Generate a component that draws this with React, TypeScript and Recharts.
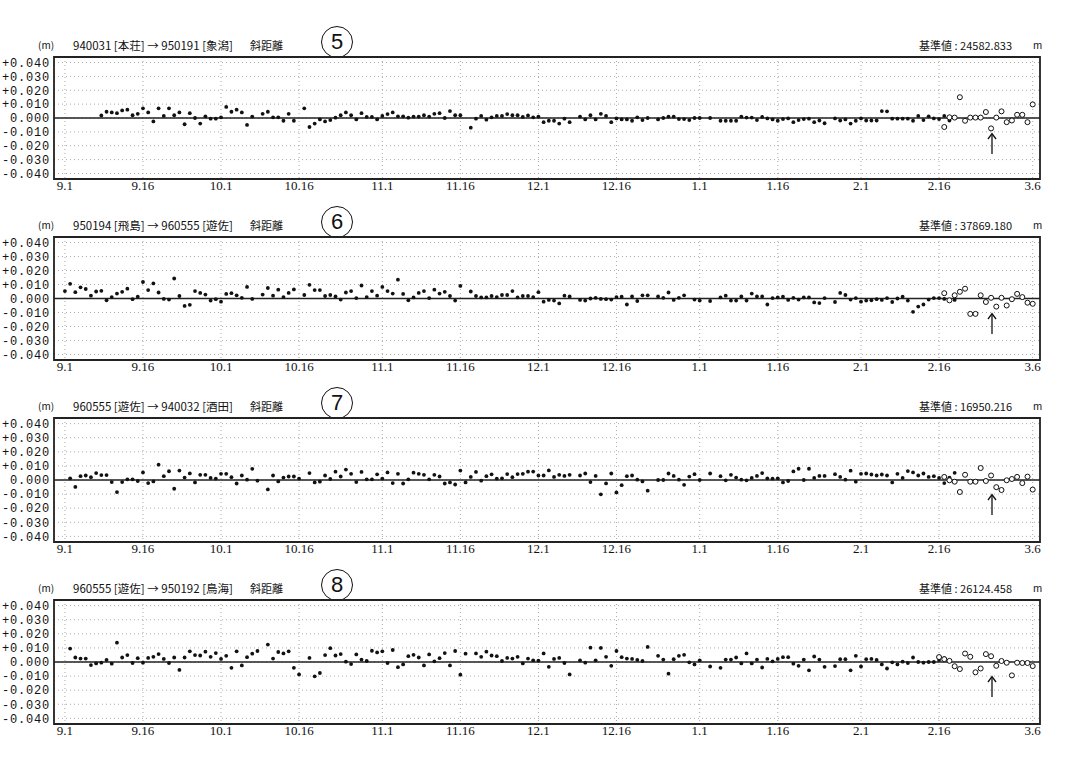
import React from "react";
import {
  CartesianGrid, ReferenceArea, ReferenceLine, Scatter, ScatterChart, XAxis, YAxis,
} from "recharts";

// days counted from 9.1
const xTickDays = [0, 15, 30, 45, 61, 76, 91, 106, 122, 137, 153, 168, 186];
const xTickLabels = ["9.1", "9.16", "10.1", "10.16", "11.1", "11.16", "12.1", "12.16", "1.1", "1.16", "2.1", "2.16", "3.6"];
const yTicks = [0.04, 0.03, 0.02, 0.01, 0, -0.01, -0.02, -0.03, -0.04];
const yTickLabels = ["+0.040", "+0.030", "+0.020", "+0.010", "0.000", "-0.010", "-0.020", "-0.030", "-0.040"];

// ⑤ 940031 -> 950191
const p5Title = "940031 [本荘] → 950191 [象潟]";
const p5Base = "24582.833";
const p5FillStart = 7;
const p5Fill = [
  0.0018, 0.0045, 0.004, 0.0035, 0.0055, 0.006, 0.002, 0.003, 0.007, 0.004,
  -0.0025, 0.007, 0.0015, 0.007, 0.002, 0.004, -0.0045, 0.0035, 0, -0.004,
  0.0012, -0.0005, -0.0005, 0.0005, 0.008, 0.0045, 0.006, 0.004, -0.005, 0.001,
  null, 0.003, 0.0045, 0.0005, 0.0005, -0.002, 0.003, -0.002, null, 0.007,
  -0.0065, -0.004, -0.001, -0.0025, -0.0015, 0.0002, 0.002, 0.004, 0.002, -0.001,
  0.0035, 0.0008, 0.0008, -0.001, 0.0015, 0.0028, 0.004, 0.0012, 0.0012, 0.0002,
  0.001, 0.001, 0.002, 0.001, 0.003, 0.0035, 0, 0.005, 0.002, 0.002,
  null, -0.007, -0.0005, 0.0015, -0.0012, 0.0005, 0.0015, 0.0015, 0.0028, 0.002,
  0.002, 0.0008, 0.0018, 0.0005,
  0.001, -0.003, -0.002, -0.002, -0.004, -0.0005, -0.003, null, 0.001, -0.001,
  0.002, -0.001, 0.003, 0.0015, -0.003, -0.0003, -0.001, -0.001, -0.002, 0.0005,
  -0.0015, 0, null, -0.001, 0, 0.001, 0.001, -0.0008, -0.0008, -0.0015,
  0, 0, null, 0, null, -0.002, -0.002, -0.002, -0.002, 0.001,
  0.0003, 0.0003, -0.0015, 0.0008, -0.0003, -0.001, -0.002, -0.0008, -0.0003, -0.003,
  -0.0015, -0.0008, -0.0005, -0.003, -0.0018, -0.0038, null, -0.0003, -0.0018, -0.001,
  -0.004, -0.002, -0.0003, -0.0018, -0.0018, -0.0018, 0.005, 0.0048, -0.0005, -0.0005,
  -0.0005, -0.0005, -0.002, 0.0015, -0.0015, 0.0012, -0.0003, -0.0008, 0.0015, -0.0018,
  0.0005,
];
const p5OpenStart = 169;
const p5Open = [
  -0.0065, 0.0005, 0.0003, 0.015, -0.002, 0.0003, 0.0003, 0.0003, 0.0043, -0.0075,
  0.0003, 0.0048, -0.003, -0.0018, 0.0023, 0.0023, -0.003, 0.0098,
];

// ⑥ 950194 -> 960555
const p6Title = "950194 [飛島] → 960555 [遊佐]";
const p6Base = "37869.180";
const p6FillStart = 0;
const p6Fill = [
  0.0053, 0.0105, 0.0045, 0.008, 0.0068, 0.002, 0.005, 0.0055, -0.0013, 0.001,
  0.0035, 0.0048, 0.007, -0.0005, 0.0013, 0.0118, 0.006, 0.0108, 0.0043, -0.0003,
  -0.0008, 0.0143, 0.0018, -0.0053, -0.0045, 0.0053, 0.004, 0.0028, -0.0015, -0.0005,
  -0.0023, 0.0033, 0.0038, 0.0023, 0.0005, 0.0083, -0.0003, null, 0.0028, 0.0075,
  0.002, 0.0063, 0.001, 0.004, 0.0065, null, 0.0025, 0.0098, 0.006, 0.006,
  0.0018, 0.0025, 0.0015, -0.0008, 0.0043, 0.0053, 0.0003, 0.0093, 0.001, 0.0053,
  0.002, 0.0083, 0.0053, 0.0035, 0.0135, 0.0033, -0.0013, 0.0008, 0.004, 0.0053,
  0.0003, 0.0063, 0.0035, 0.0048, 0.0018, -0.0015, 0.009, null, 0.005, 0.0018,
  0.0008, 0.0008, 0.0018, 0.001, 0.0025, 0.0025, 0.0053, 0.0008, 0.0018, 0.0018,
  0.001, 0.0045,
  -0.0023, -0.001, -0.0015, -0.0035, 0.002, 0.0015, null, -0.001, -0.0015, 0,
  0.0005, -0.0003, -0.0005, -0.0008, 0.001, 0.0013, -0.0043, 0.0015, -0.0018, 0.0023,
  0.0023, null, 0.0015, 0.0005, 0.0043, -0.001, 0.0005, 0.0023, null, -0.0008,
  -0.0015, null, -0.0018, null, 0.0008, 0.002, -0.0015, -0.0015, 0.0015, -0.0015,
  0.0035, 0.0015, 0.0015, -0.0043, 0.0003, 0.0008, 0.0013, -0.001, 0.0005, -0.0008,
  0.0008, 0.0008, -0.0028, -0.0033, 0.0003, null, -0.0025, 0.004, 0.0025, -0.0008,
  0.0003, -0.0023, -0.0015, -0.0013, -0.0005, -0.001, 0.0003, -0.0025, 0, 0.0013,
  -0.0015, -0.0095, -0.0058, -0.0043, -0.0008, 0.0003, 0.0003, -0.0003, null, -0.001,
];
const p6OpenStart = 169;
const p6Open = [
  0.0038, -0.0013, 0.0023, 0.0048, 0.007, -0.011, -0.011, 0.0023, -0.0025, 0.0005,
  -0.0058, 0.0005, -0.005, -0.0005, 0.0033, 0.001, -0.003, -0.0038,
];

// ⑦ 960555 -> 940032
const p7Title = "960555 [遊佐] → 940032 [酒田]";
const p7Base = "16950.216";
const p7FillStart = 1;
const p7Fill = [
  0.0012, -0.0049, 0.0027, 0.0032, 0.002, 0.0049, 0.0035, 0.0035, -0.0015, -0.0086,
  -0.0015, 0.0005, 0.0005, -0.0007, 0.0054, -0.0022, -0.001, 0.0109, 0.0027, 0.0062,
  -0.0062, 0.0067, 0.0017, 0.0047, -0.0017, 0.0037, 0.0037, 0.0015, 0.001, 0.0044,
  0.0044, 0.002, -0.0025, 0.0032, 0.0002, 0.0079, -0.0005, null, -0.0067, 0.0032,
  -0.001, 0.0017, 0.0025, 0.0025, 0.001, null, 0.0049, -0.0017, -0.0012, 0.0032,
  0.0007, 0.0059, 0.0025, 0.0074, 0.0044, -0.0015, 0.0057, 0.0005, 0.0005, 0.004,
  0.001, 0.0054, -0.0022, 0.0044, -0.0025, 0.0005, 0.0052, 0.0044, 0.0037, 0.0005,
  0.0037, 0.0025, -0.0025, -0.0017, -0.0032, 0.0067, -0.0017, 0.0022, 0.0057, -0.0005,
  0.0027, 0.004, 0.001, 0.0012, 0.0042, 0.002, 0.0042, 0.0044, 0.0059, 0.006,
  0.0032, 0.0032, 0.0068, 0.0022, 0.0037, 0.0029, 0.0037, null, 0.0032, 0.0046,
  -0.0015, 0.0029, -0.0102, -0.0024, 0.0046, -0.0088, -0.0037, 0.0027, 0.0032, 0.0002,
  -0.001, -0.0076, null, 0, 0, 0.0046, 0.0029, 0.0002, -0.0034, 0.0024,
  0.0041, 0, null, 0.0046, null, 0.0027, -0.0002, 0.0037, 0.0017, 0.0002,
  -0.0002, 0.0015, 0.0029, 0.0049, 0.0012, 0.001, 0.0012, -0.0017, -0.0007, 0.0061,
  0.008, 0, 0.008, 0.0015, 0.0029, 0.0029, null, 0.0041, 0.0022, 0.0002,
  0.0066, -0.0012, 0.0044, 0.0046, 0.0039, 0.0032, 0.0039, 0.0032, -0.0017, 0.0044,
  0.0015, 0.0063, 0.0054, 0.0032, 0.0046, 0.0022, 0.0027, 0.0015, -0.0022, 0.0017,
  0.0051,
];
const p7OpenStart = 169;
const p7Open = [
  0.0022, -0.0002, -0.0012, -0.0085, 0.0037, -0.0012, -0.0012, 0.0085, -0.0007, 0.0032,
  -0.0051, -0.0071, -0.0002, 0.0007, 0.0022, -0.0022, 0.0024, -0.0068,
];

// ⑧ 960555 -> 950192
const p8Title = "960555 [遊佐] → 950192 [鳥海]";
const p8Base = "26124.458";
const p8FillStart = 1;
const p8Fill = [
  0.0095, 0.0032, 0.0024, 0.0024, -0.0022, -0.001, -0.0005, 0.0015, -0.0012, 0.0137,
  0.0032, 0.0049, -0.0007, 0.0027, -0.0005, 0.0029, 0.0037, 0.0056, 0.0022, -0.0007,
  0.0032, -0.0056, 0.0032, 0.0076, 0.0049, 0.0046, 0.0073, 0.0037, 0.0063, 0.0022,
  0.0044, -0.0041, 0.0076, -0.0024, 0.0034, 0.0059, 0.0078, null, 0.0124, 0.0024,
  0.0071, 0.0061, 0.0076, -0.0041, -0.0088, null, 0.0029, -0.0102, -0.0078, 0.0049,
  0.0098, 0.0046, 0.0056, 0.0002, -0.0015, 0.0054, 0.0017, 0.0007, 0.008, 0.0068,
  0.0076, -0.0007, 0.0085, -0.0037, -0.0017, 0.0041, 0.0051, 0.0032, -0.0024, 0.0054,
  0.0005, 0.0027, 0.0063, -0.0024, 0.0078, -0.009, 0.0059, null, 0.0061, 0.0037,
  0.0073, 0.0046, 0.0041, 0.0007, 0.0029, 0.0024, 0.0037, -0.001, 0.0024, 0.0012,
  0.001, 0.0061, -0.0034, 0.0022, 0.0029, -0.0007, -0.0088, null, 0.0012, -0.0005,
  0.0102, 0.0012, 0.01, 0.0037, -0.0027, 0.0078, 0.0034, 0.0024, 0.0022, 0.0015,
  0.0007, 0.0107, null, 0.0044, 0.0017, -0.0083, 0.002, 0.0044, 0.0051, -0.0002,
  -0.0017, 0.0012, null, -0.0032, null, -0.0041, 0.0017, 0.0017, 0.0032, -0.001,
  0.0061, -0.001, 0.0017, -0.0039, 0.0022, 0.0005, 0.0022, 0.0034, 0.0034, -0.0012,
  -0.0027, 0.0017, -0.0059, 0.0039, 0.0017, -0.0034, null, -0.0029, 0.002, 0.002,
  -0.0059, 0.0044, -0.0032, 0.002, 0.0022, 0.0015, -0.0017, -0.0046, -0.0002, -0.0017,
  0.0002, -0.0007, 0.0032, 0, -0.0005, 0, 0, 0.0015, 0.0027,
];
const p8OpenStart = 168;
const p8Open = [
  0.0035, 0.002, 0.0008, -0.003, -0.005, 0.006, 0.0037, -0.0073, -0.0046, 0.0056,
  0.0041, -0.0027, 0.0007, -0.0005, -0.0095, -0.0005, -0.0007, -0.0007, -0.0029,
];

const toPoints = (start: number, vals: (number | null)[]) =>
  vals.flatMap((v, i) => (v == null ? [] : [{ d: start + i, v }]));

const Dot = (p: any) => <circle cx={p.cx} cy={p.cy} r={1.9} fill="#111" />;
const Ring = (p: any) => <circle cx={p.cx} cy={p.cy} r={2.5} fill="#fff" stroke="#111" strokeWidth={1} />;

const PAD = 4;

function Panel({ num, title, base, fillStart, fill, openStart, open, top, plotH }: {
  num: string; title: string; base: string; fillStart: number; fill: (number | null)[];
  openStart: number; open: (number | null)[]; top: number; plotH: number;
}) {
  const hdr = { position: "absolute" as const, top: top - 20, fontFamily: "'Noto Sans CJK JP'", fontSize: 11, color: "#111", whiteSpace: "pre" as const };
  return (
    <>
      <div style={{ ...hdr, left: 38, fontSize: 10 }}>(m)</div>
      <div style={{ ...hdr, left: 73, fontSize: 11.5 }}>{title}</div>
      <div style={{ ...hdr, left: 250 }}>斜距離</div>
      <div style={{ ...hdr, left: 880, width: 132, textAlign: "right" }}>{"基準値 : " + base}</div>
      <div style={{ ...hdr, left: 1033, fontSize: 10 }}>m</div>
      <div style={{
        position: "absolute", left: 321, top: top - 31, width: 30, height: 30, borderRadius: "50%",
        border: "1.4px solid #111", fontFamily: "'Liberation Sans'", fontSize: 22, lineHeight: "30px",
        textAlign: "center", color: "#111",
      }}>{num}</div>
      <svg style={{ position: "absolute", left: 985, top: top + 75 }} width={14} height={24}>
        <line x1={7} y1={2} x2={7} y2={22} stroke="#111" strokeWidth={1.3} />
        <polyline points="3,7 7,1.5 11,7" fill="none" stroke="#111" strokeWidth={1.3} />
      </svg>
      <div style={{ position: "absolute", left: 0, top: top - PAD }}>
        <ScatterChart width={1075} height={PAD + plotH + 24} margin={{ top: PAD, right: 35, left: 0, bottom: 0 }}>
          <CartesianGrid stroke="#aaa" strokeDasharray="1 3" />
          <XAxis type="number" dataKey="d" domain={[-2.1, 187.4]} ticks={xTickDays} interval={0}
            allowDataOverflow tickLine={false} axisLine={false} tickSize={0} tickMargin={2} height={24}
            tick={{ fontFamily: "'Liberation Serif'", fontSize: 13, fill: "#111" }}
            tickFormatter={(d: number) => xTickLabels[xTickDays.indexOf(d)]} />
          <YAxis type="number" dataKey="v" domain={[-0.044, 0.044]} ticks={yTicks} interval={0}
            allowDataOverflow width={54} tickLine={false} axisLine={false} tickSize={0} tickMargin={4}
            tick={{ fontFamily: "'Liberation Mono'", fontSize: 12, fill: "#111", letterSpacing: 0.8 }}
            tickFormatter={(v: number) => yTickLabels[yTicks.indexOf(v)]} />
          <ReferenceLine y={0} stroke="#222" strokeWidth={1.4} />
          <ReferenceArea x1={-2.1} x2={187.4} y1={-0.044} y2={0.044} fill="none" stroke="#222" strokeWidth={1.8} />
          <Scatter data={toPoints(fillStart, fill)} shape={Dot} isAnimationActive={false} />
          <Scatter data={toPoints(openStart, open)} shape={Ring} isAnimationActive={false} />
        </ScatterChart>
      </div>
    </>
  );
}

export default function App() {
  return (
    <div style={{ position: "absolute", left: 0, top: 0, width: 1075, height: 763, background: "#fff", overflow: "hidden" }}>
      <Panel num="5" title={p5Title} base={p5Base} fillStart={p5FillStart} fill={p5Fill}
        openStart={p5OpenStart} open={p5Open} top={57} plotH={122} />
      <Panel num="6" title={p6Title} base={p6Base} fillStart={p6FillStart} fill={p6Fill}
        openStart={p6OpenStart} open={p6Open} top={237} plotH={123} />
      <Panel num="7" title={p7Title} base={p7Base} fillStart={p7FillStart} fill={p7Fill}
        openStart={p7OpenStart} open={p7Open} top={418} plotH={124} />
      <Panel num="8" title={p8Title} base={p8Base} fillStart={p8FillStart} fill={p8Fill}
        openStart={p8OpenStart} open={p8Open} top={600} plotH={124} />
    </div>
  );
}
